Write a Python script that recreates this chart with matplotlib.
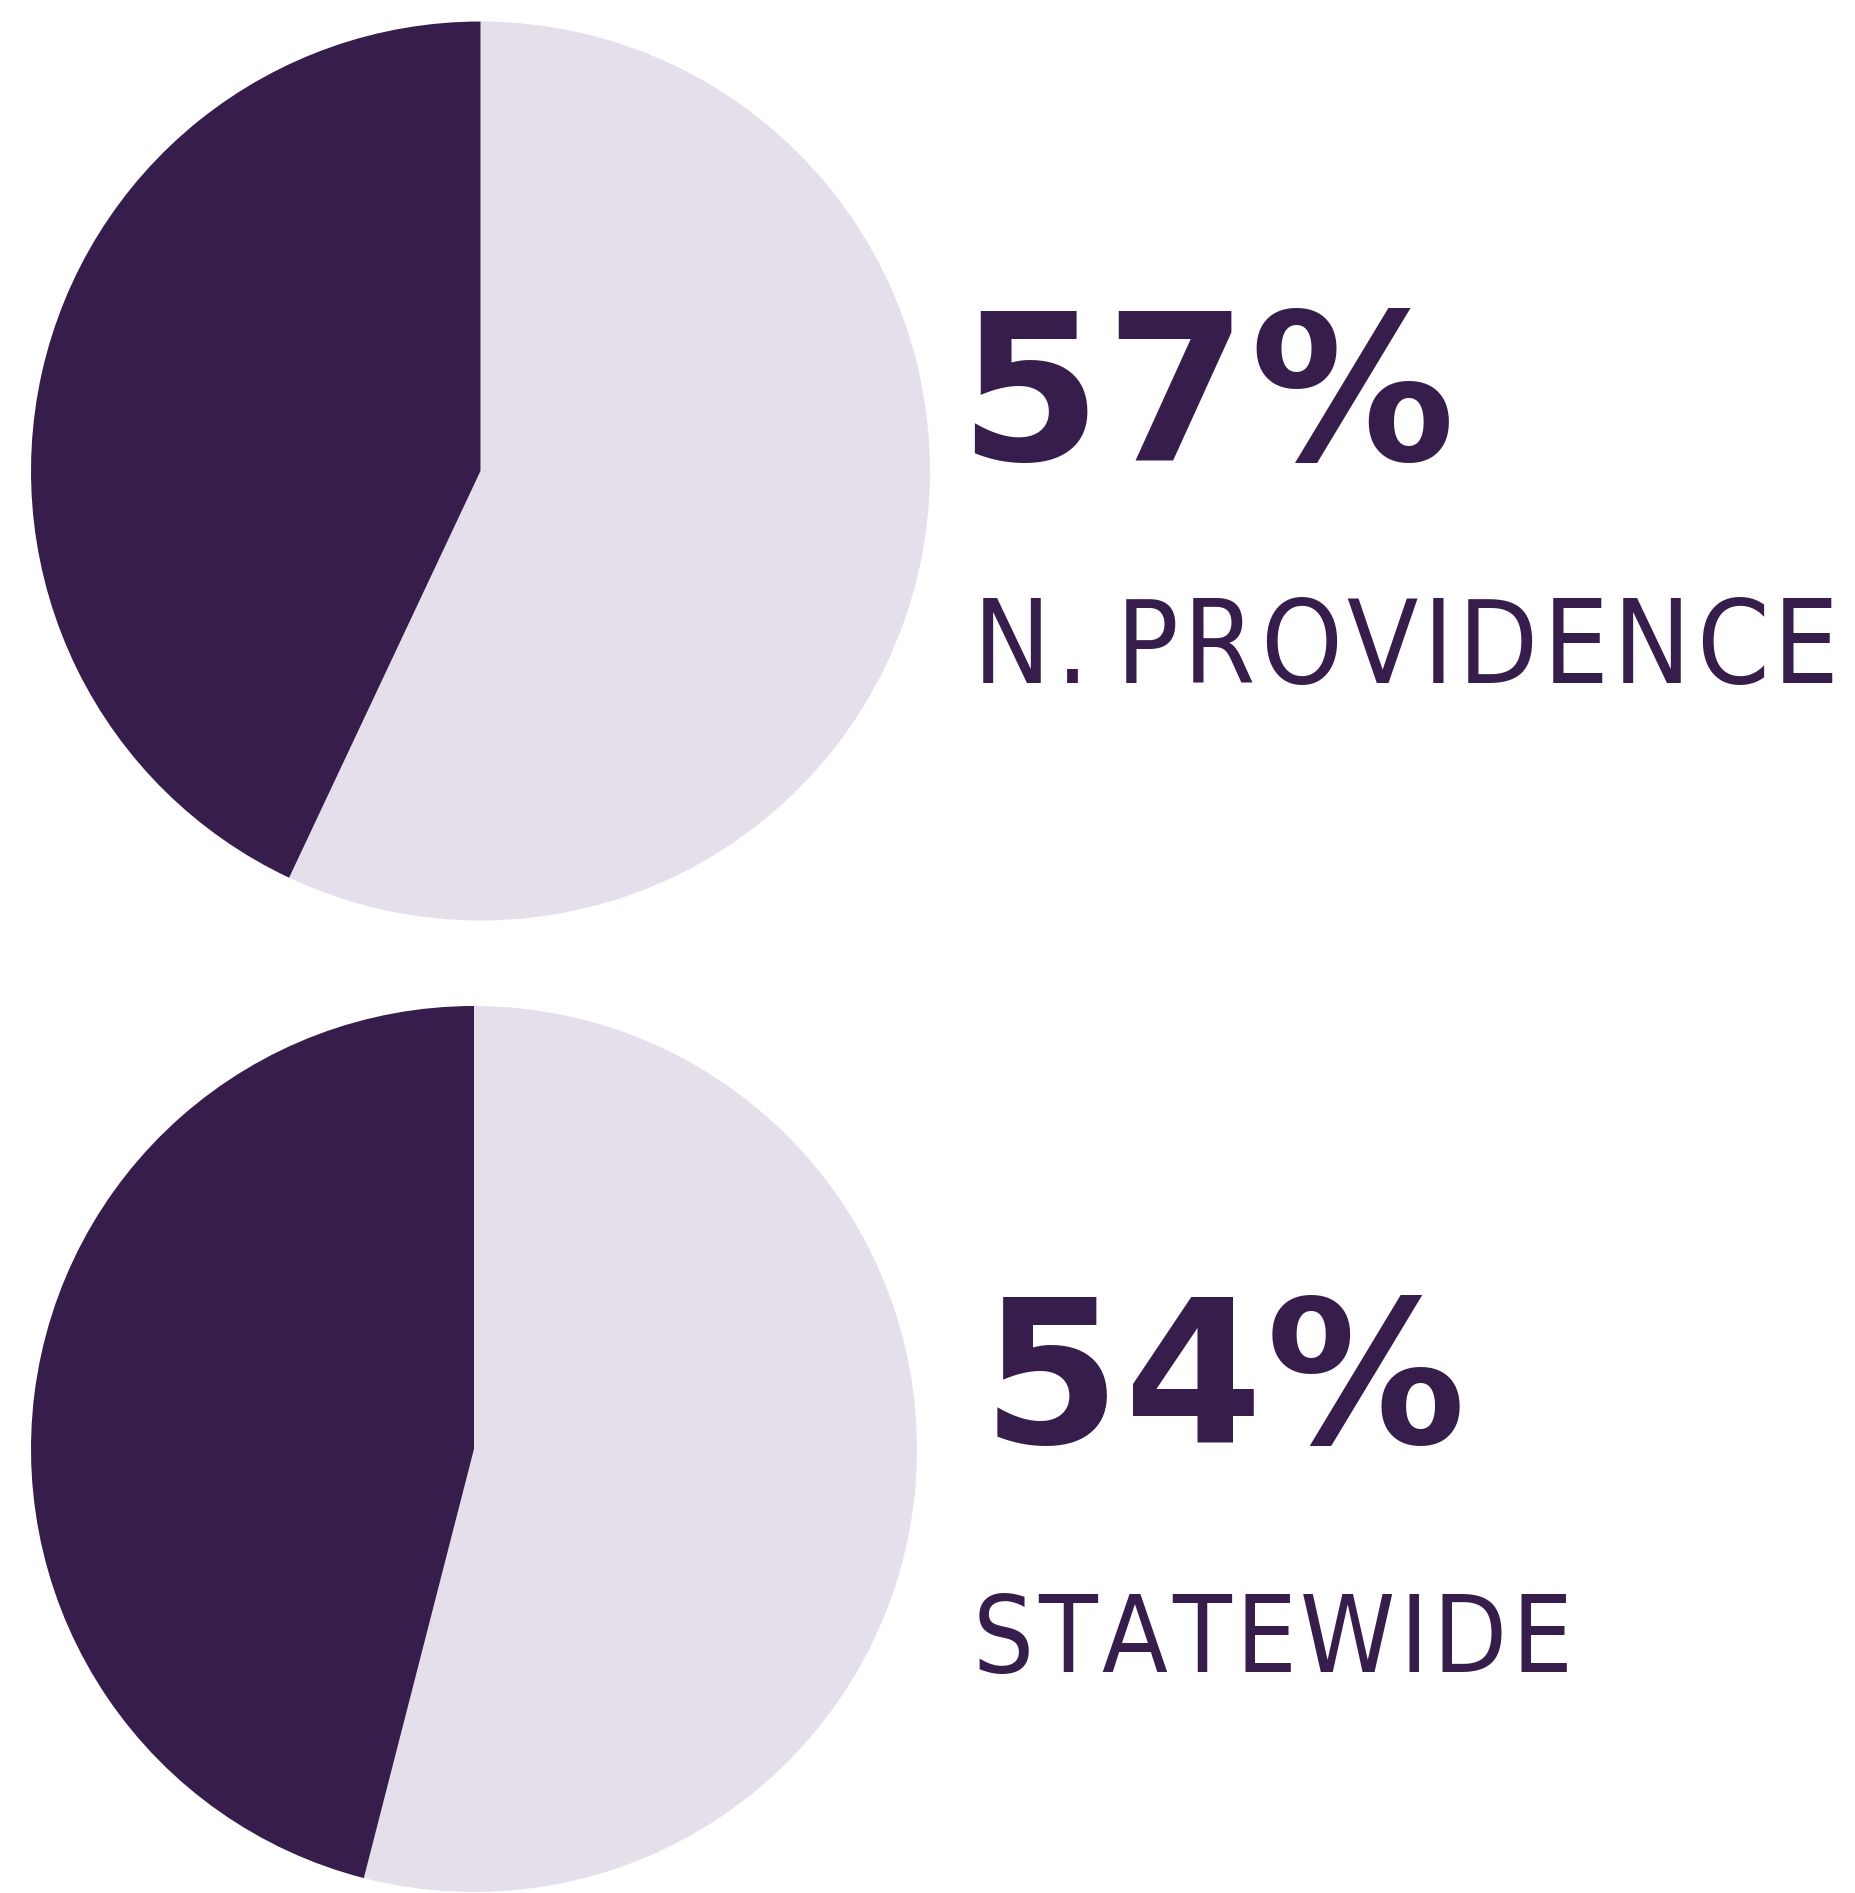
import matplotlib
matplotlib.use("Agg")
import matplotlib.pyplot as plt
from matplotlib import font_manager as fm

W, H, DPI = 1856, 1893, 100
DARK = "#371d4c"
LIGHT = "#e4dfeb"

# data
regions = ["N. PROVIDENCE", "STATEWIDE"]
shares = [57, 54]

# layout in pixels: pie centre x, centre y, radius
pie_boxes = [(480.5, 471, 449.5), (474, 1449, 443)]
# big number: left, baseline, right ; label: left, baseline, right
num_pos = [(958, 460, 1455), (982, 1443, 1466)]
lab_pos = [(973, 683, 1839), (973, 1672, 1572)]


def condensed_font():
    # look for any installed condensed / narrow regular face
    for f in fm.fontManager.ttflist:
        name = (f.name + " " + f.fname).lower()
        narrow = "condensed" in name or "narrow" in name or f.stretch in ("condensed", "semi-condensed")
        if narrow and f.style == "normal" and f.weight in (400, "normal", "regular"):
            return fm.FontProperties(fname=f.fname)
    return None


fig = plt.figure(figsize=(W / DPI, H / DPI), dpi=DPI)
renderer = fig.canvas.get_renderer()


def ink_width(s, **kw):
    t = fig.text(0, 0, s, **kw)
    w = t.get_window_extent(renderer).width
    t.remove()
    return w


def tracked(x, y, right, s, size, min_track=None, **kw):
    em = size * DPI / 72
    widths = [0.15 * em if ch == " " else ink_width(ch, fontsize=size, **kw) for ch in s]
    gaps = len(s) - 1
    track = (right - x - sum(widths)) / gaps
    if min_track is not None and track < min_track * em:
        # shrink the font so the word still fits the reference width
        k = (right - x) / (sum(widths) + gaps * min_track * em)
        size *= k
        em *= k
        widths = [w * k for w in widths]
        track = min_track * em
    xc = x
    for ch, w in zip(s, widths):
        if ch != " ":
            fig.text(xc / W, 1 - y / H, ch, ha="left", va="baseline", fontsize=size, **kw)
        xc += w + track


cond = condensed_font()
if cond is not None:
    lab_kw = dict(fontproperties=cond, color=DARK)
else:
    lab_kw = dict(family=["Roboto", "DejaVu Sans"], color=DARK)
num_kw = dict(family="DejaVu Sans", weight="bold", color=DARK)

for i in range(2):
    cx, cy, r = pie_boxes[i]
    ax = fig.add_axes([(cx - r) / W, 1 - (cy + r) / H, 2 * r / W, 2 * r / H])
    ax.pie([shares[i], 100 - shares[i]], colors=[LIGHT, DARK], startangle=90,
           counterclock=False, radius=1, wedgeprops=dict(linewidth=0))
    ax.set_xlim(-1, 1)
    ax.set_ylim(-1, 1)
    ax.set_aspect("auto")
    ax.axis("off")

    nx, ny, nr = num_pos[i]
    tracked(nx, ny, nr, f"{shares[i]}%", 158, min_track=0.015, **num_kw)
    lx, ly, lr = lab_pos[i]
    tracked(lx, ly, lr, regions[i], 89, min_track=0.04, **lab_kw)

fig.savefig("out.png", dpi=DPI)
